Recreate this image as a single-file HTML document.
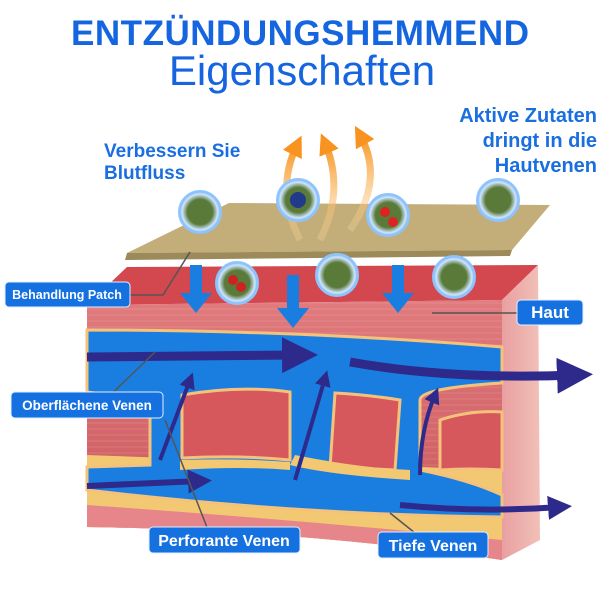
<!DOCTYPE html>
<html><head><meta charset="utf-8"><style>
html,body{margin:0;padding:0;background:#fff;width:600px;height:600px;overflow:hidden}
svg{display:block}
text{font-family:"Liberation Sans",sans-serif}
</style></head><body>
<svg width="600" height="600" viewBox="0 0 600 600" xmlns="http://www.w3.org/2000/svg">
<defs>
<linearGradient id="mus" x1="0" y1="0" x2="0" y2="1"><stop offset="0" stop-color="#e07b7d"/><stop offset="1" stop-color="#c9545a"/></linearGradient>
<linearGradient id="side" x1="0" y1="0" x2="1" y2="0"><stop offset="0" stop-color="#e8a0a0"/><stop offset="1" stop-color="#f2c0b8"/></linearGradient>
<radialGradient id="bub" cx="0.5" cy="0.5" r="0.5"><stop offset="0.6" stop-color="#5a7a3a"/><stop offset="0.85" stop-color="#cfe6ff"/><stop offset="1" stop-color="#6aa8f0"/></radialGradient>
<linearGradient id="org" x1="0" y1="1" x2="0" y2="0"><stop offset="0" stop-color="#fbd8a0" stop-opacity="0.3"/><stop offset="1" stop-color="#f7931e"/></linearGradient>
<pattern id="str" width="6" height="6" patternUnits="userSpaceOnUse"><rect width="6" height="6" fill="none"/><line x1="0" y1="3" x2="6" y2="3" stroke="#ffffff" stroke-opacity="0.12" stroke-width="1"/></pattern>
<marker id="ah" viewBox="0 0 10 10" refX="5" refY="5" markerWidth="4" markerHeight="4" orient="auto"><path d="M0 0L10 5L0 10z" fill="#2e2a8c"/></marker>
<marker id="ao" viewBox="0 0 10 10" refX="5" refY="5" markerWidth="3" markerHeight="3" orient="auto"><path d="M0 0L10 5L0 10z" fill="#f7931e"/></marker>
</defs>

<text x="300" y="45" text-anchor="middle" font-size="35" font-weight="bold" fill="#1565e0" textLength="458">ENTZÜNDUNGSHEMMEND</text>
<text x="302" y="85" text-anchor="middle" font-size="42" fill="#1565e0">Eigenschaften</text>
<text x="104" y="157" font-size="19" font-weight="bold" fill="#1a6fe0">Verbessern Sie</text>
<text x="104" y="179" font-size="19" font-weight="bold" fill="#1a6fe0">Blutfluss</text>
<text x="597" y="122" text-anchor="end" font-size="20" font-weight="bold" fill="#1a6fe0">Aktive Zutaten</text>
<text x="597" y="147" text-anchor="end" font-size="20" font-weight="bold" fill="#1a6fe0">dringt in die</text>
<text x="597" y="172" text-anchor="end" font-size="20" font-weight="bold" fill="#1a6fe0">Hautvenen</text>

<!-- skin block -->
<path d="M127 267 L538 265 L502 300 L87 305 Z" fill="#d2484e"/>
<path d="M502 300 L538 265 L540 540 L502 560 Z" fill="url(#side)"/>
<path d="M87 305 L502 300 L502 560 Q300 530 87 527 Z" fill="url(#mus)"/>
<path d="M87 305 L502 300 L502 560 Q300 530 87 527 Z" fill="url(#str)"/>
<!-- fat layers -->
<path d="M87 455 L502 470 L502 560 Q300 530 87 527 Z" fill="#f3c873"/>
<path d="M87 505 Q300 520 502 540 L502 560 Q300 530 87 527 Z" fill="#e7868a"/>
<!-- vein network -->
<path d="M87 330 Q300 330 502 347 L502 383 Q420 388 420 400 L420 470 Q470 480 502 495 L502 517 Q300 515 87 490 L87 467 L150 465 L150 400 L87 392 Z" fill="#1a7ee0" stroke="#f4c27a" stroke-width="3"/>
<path d="M182 395 Q240 385 290 392 L290 460 Q240 455 182 458 Z" fill="#d6575c" stroke="#f4c27a" stroke-width="3"/>
<path d="M335 393 Q370 395 400 400 L395 470 Q360 468 330 468 Z" fill="#d6575c" stroke="#f4c27a" stroke-width="3"/>
<path d="M440 420 Q470 410 502 412 L502 470 Q470 468 440 470 Z" fill="#d6575c" stroke="#f4c27a" stroke-width="3"/>
<path d="M290 465 Q330 475 410 480 L410 470 Q360 468 295 455Z" fill="#f3c873"/>
<path d="M180 460 Q240 458 290 462 L290 470 Q240 466 180 470Z" fill="#f3c873"/>
<!-- big arrows -->
<path d="M87 357 L300 355" stroke="#2e2a8c" stroke-width="9" marker-end="url(#ah)"/>
<path d="M350 362 Q450 380 575 375" stroke="#2e2a8c" stroke-width="9" fill="none" marker-end="url(#ah)"/>
<path d="M87 486 L200 481" stroke="#2e2a8c" stroke-width="6" marker-end="url(#ah)"/>
<path d="M400 505 Q480 513 560 507" stroke="#2e2a8c" stroke-width="6" fill="none" marker-end="url(#ah)"/>
<path d="M160 460 Q175 420 190 380" stroke="#2e2a8c" stroke-width="4" fill="none" marker-end="url(#ah)"/>
<path d="M295 480 Q310 430 325 378" stroke="#2e2a8c" stroke-width="4" fill="none" marker-end="url(#ah)"/>
<path d="M420 475 Q420 430 435 395" stroke="#2e2a8c" stroke-width="4" fill="none" marker-end="url(#ah)"/>

<!-- patch -->
<path d="M229 203 L550 205 L512 250 L127 253 Z" fill="#c3ad78"/>
<path d="M127 253 L512 250 L510 256 L125 260 Z" fill="#9c8a5a"/>
<!-- orange arrows -->
<path d="M300 240 Q275 190 297 145" stroke="url(#org)" stroke-width="7" fill="none" marker-end="url(#ao)"/>
<path d="M320 240 Q345 190 325 143" stroke="url(#org)" stroke-width="7" fill="none" marker-end="url(#ao)"/>
<path d="M350 230 Q385 180 360 135" stroke="url(#org)" stroke-width="7" fill="none" marker-end="url(#ao)"/>
<!-- blue down arrows -->
<g fill="#1a7ee0">
<path d="M190 265 h12 v28 h10 l-16 20 l-16 -20 h10z"/>
<path d="M287 275 h12 v33 h10 l-16 20 l-16 -20 h10z"/>
<path d="M392 265 h12 v28 h10 l-16 20 l-16 -20 h10z"/>
</g>
<!-- bubbles -->
<g stroke="#8cc4ff" stroke-width="2">
<circle cx="200" cy="212" r="21" fill="url(#bub)"/>
<circle cx="298" cy="200" r="21" fill="url(#bub)"/>
<circle cx="388" cy="215" r="21" fill="url(#bub)"/>
<circle cx="498" cy="200" r="21" fill="url(#bub)"/>
<circle cx="237" cy="283" r="21" fill="url(#bub)"/>
<circle cx="337" cy="275" r="21" fill="url(#bub)"/>
<circle cx="454" cy="277" r="21" fill="url(#bub)"/>
</g>
<circle cx="298" cy="200" r="8" fill="#223a8a"/>
<circle cx="385" cy="212" r="5" fill="#d22"/><circle cx="393" cy="222" r="5" fill="#d22"/>
<circle cx="233" cy="280" r="5" fill="#c22"/><circle cx="241" cy="287" r="5" fill="#c22"/>
<!-- leader lines -->
<g stroke="#555" stroke-width="1.5" fill="none">
<path d="M130 295 L163 295 L190 252"/>
<path d="M517 313 L432 313"/>
<path d="M100 405 L155 352"/>
<path d="M210 535 L165 420"/>
<path d="M430 545 L390 513"/>
</g>
<!-- labels -->
<g fill="#1570e0" stroke="#dfeeff" stroke-width="1">
<rect x="5" y="282" width="125" height="25" rx="4"/>
<rect x="517" y="300" width="66" height="25" rx="4"/>
<rect x="11" y="392" width="152" height="26" rx="4"/>
<rect x="149" y="527" width="151" height="26" rx="4"/>
<rect x="378" y="532" width="110" height="26" rx="4"/>
</g>
<g fill="#fff" font-weight="bold">
<text x="67" y="299" text-anchor="middle" font-size="12.5">Behandlung Patch</text>
<text x="550" y="318" text-anchor="middle" font-size="17">Haut</text>
<text x="87" y="410" text-anchor="middle" font-size="13.5">Oberflächene Venen</text>
<text x="224" y="546" text-anchor="middle" font-size="16">Perforante Venen</text>
<text x="433" y="551" text-anchor="middle" font-size="16">Tiefe Venen</text>
</g>
</svg>
</body></html>
